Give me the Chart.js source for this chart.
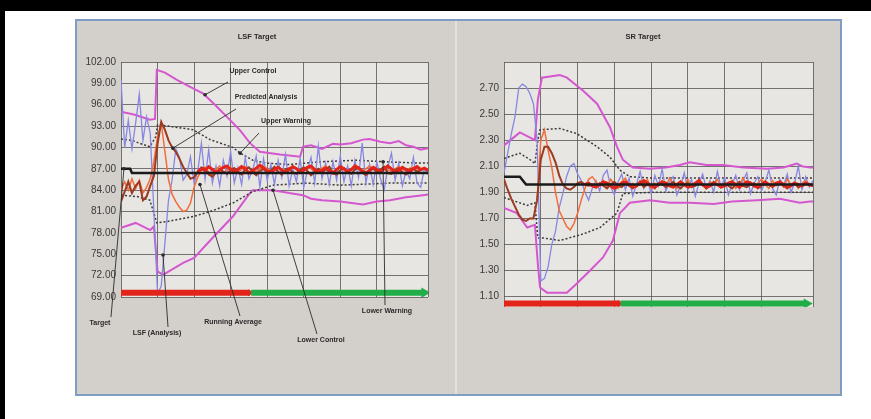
<!DOCTYPE html>
<html>
<head>
<meta charset="utf-8">
<script src="https://cdn.jsdelivr.net/npm/chart.js@4"></script>
<style>
  body { margin: 0; background: #fff; width: 871px; height: 419px; overflow: hidden; position: relative; }
  .topbar { position: absolute; left: 0; top: 0; width: 871px; height: 11px; background: #000; }
  .leftbar { position: absolute; left: 0; top: 0; width: 5px; height: 419px; background: #000; }
  .panel { position: absolute; left: 75px; top: 19px; width: 763px; height: 373px; background: #d3cfca; border: 2px solid #7d9dc3; }
  .divider { position: absolute; left: 455px; top: 21px; width: 2px; height: 373px; background: #e4e1dd; }
  canvas { position: absolute; }
</style>
</head>
<body>
<div class="topbar"></div>
<div class="leftbar"></div>
<div class="panel"></div>
<div class="divider"></div>
<canvas id="lsfChart" width="360" height="373" style="left:77px;top:21px"></canvas>
<canvas id="srChart" width="370" height="373" style="left:458px;top:21px"></canvas>
<script>
// ---- LSF Target (left chart) ----
var lsfTicks = [69, 72, 75, 78, 81, 84, 87, 90, 93, 96, 99, 102];
var lsfTickLabels = ["69.00", "72.00", "75.00", "78.00", "81.00", "84.00", "87.00", "90.00", "93.00", "96.00", "99.00", "102.00"];

var lsfTargetX = [0, 2.5, 3, 84];
var lsfTargetY = [87.0, 87.0, 86.4, 86.4];

var lsfUpperControlX = [0, 3.8, 7.9, 9.3, 9.8, 12, 15.3, 18.9, 22.4, 25.7, 29, 32.6, 35.3, 38, 43.5, 49, 49.8, 52, 55, 58, 60, 63, 66.2, 68, 71, 73.6, 76, 78, 80, 82, 84];
var lsfUpperControlY = [95.0, 94.6, 93.9, 94.0, 100.9, 100.5, 99.5, 98.5, 97.6, 96.0, 94.3, 92.4, 90.6, 89.4, 89.0, 88.7, 90.1, 90.3, 89.8, 90.5, 90.4, 90.6, 91.1, 91.2, 90.8, 90.6, 90.9, 90.3, 90.1, 89.7, 89.9];
var lsfLowerControlX = [0, 4, 8, 9, 10, 11.5, 17, 20, 25.4, 30.6, 35, 36, 41.6, 46, 49.8, 52, 55, 60, 66.2, 70, 73.6, 78, 82.6, 84];
var lsfLowerControlY = [78.7, 79.4, 78.4, 78.9, 72.6, 72.1, 73.8, 74.5, 77.5, 80.3, 83.4, 84.0, 84.0, 83.6, 83.3, 82.8, 82.6, 82.4, 82.0, 82.4, 82.6, 83.0, 83.3, 83.4];
var lsfUpperWarningX = [0, 3, 5, 7.9, 9.5, 10, 19.7, 24.4, 30.6, 32.6, 36.1, 39.7, 46, 55, 64.6, 71.7, 82, 84];
var lsfUpperWarningY = [91.2, 91.0, 90.6, 90.1, 91.5, 93.2, 92.5, 91.1, 90.0, 89.2, 88.2, 87.8, 87.6, 88.0, 88.2, 88.0, 87.8, 87.8];
var lsfLowerWarningX = [0, 4.4, 7.9, 9.8, 12.6, 19.7, 24.4, 30.6, 36.1, 41.6, 50.9, 59.9, 73.6, 81.8, 84];
var lsfLowerWarningY = [83.3, 83.1, 82.6, 79.4, 79.6, 80.3, 81.0, 82.2, 83.8, 84.7, 85.0, 84.7, 85.0, 85.0, 85.0];

// one value per x step, starting at x = 0
var lsfAnalysis = [
  99.5, 90.0, 93.8, 89.8, 93.4, 97.5, 91.0, 94.3, 92.0, 81.0,
  69.5, 70.5, 76.5, 82.6, 85.5, 89.8, 88.6, 85.4, 86.2, 88.7,
  85.0, 86.6, 90.6, 85.5, 89.7, 85.0, 87.4, 84.6, 88.2, 86.0,
  89.4, 85.0, 87.2, 84.8, 88.6, 85.6, 86.8, 88.8, 84.4, 88.4,
  85.4, 87.6, 84.8, 88.2, 85.8, 89.0, 84.6, 87.0, 85.2, 88.4,
  84.4, 86.8, 88.6, 85.0, 90.2, 85.6, 87.8, 84.8, 88.0, 85.4,
  88.8, 85.2, 87.4, 84.6, 88.2, 85.8, 90.6, 85.0, 87.6, 84.8,
  88.0, 85.6, 84.0, 87.2, 89.2, 85.4, 87.8, 84.6, 86.8, 85.6,
  88.6, 85.0, 84.4, 87.0, 86.2
];
var lsfPredicted = [
  82.4, 83.8, 85.2, 83.6, 84.6, 85.2, 82.6, 83.1, 84.6, 86.0,
  90.5, 93.6, 92.5, 91.0, 90.0, 89.4, 88.4, 87.3, 86.4, 85.6,
  85.8, 86.6, 87.2, 87.0, 86.2, 85.9, 86.5, 86.9, 86.6,
  86.3, 86.8, 87.1, 86.5, 86.2, 86.9, 87.2, 86.6, 86.1, 86.7,
  87.0, 86.4, 86.8, 87.3, 86.6, 86.2, 86.9, 87.1, 86.5, 86.3,
  86.8, 87.2, 86.7, 86.1, 86.6, 87.0, 86.5, 86.9, 87.3, 86.4,
  86.2, 86.8, 87.1, 86.6, 86.3, 86.9, 87.2, 86.5, 86.1, 86.7,
  87.0, 86.6, 86.9, 87.3, 86.4, 86.3, 86.8, 87.1, 86.5, 86.2,
  86.9, 87.0, 86.6, 86.8, 87.1, 86.7
];
var lsfRunningAvg = [
  84.0, 85.2, 84.0, 85.6, 84.2, 85.4, 83.6, 84.4, 85.6, 88.0,
  91.5, 93.4, 89.5, 85.5, 83.4, 82.4, 81.6, 81.0, 81.2, 82.2,
  84.4, 85.8, 86.8, 87.2, 86.6, 86.0, 86.9, 87.4, 86.4,
  86.9, 87.2, 86.8, 86.5, 86.9, 87.3, 87.1, 86.7, 86.6, 87.0,
  87.4, 87.0, 86.6, 86.8, 87.2, 86.9, 86.5, 86.8, 87.3, 87.1,
  86.7, 86.9, 87.3, 87.0, 86.6, 86.7, 87.1, 87.4, 86.9, 86.6,
  86.9, 87.2, 86.8, 86.5, 86.9, 87.3, 87.0, 86.7, 87.0, 87.4,
  87.0, 86.6, 86.8, 87.2, 86.9, 86.6, 87.0, 87.3, 86.9, 86.7,
  87.1, 87.2, 86.8, 86.9, 87.1, 86.9
];
// starts at x = 21
var lsfActualStart = 21;
var lsfActual = [
  86.6, 87.0, 86.8, 87.3, 86.9, 86.5, 86.8, 87.2, 87.4, 86.9,
  86.6, 86.9, 87.3, 87.0, 86.4, 86.7, 87.1, 87.5, 87.1, 86.7,
  86.5, 86.9, 87.2, 86.8, 86.5, 86.9, 87.3, 87.0, 86.6, 86.8,
  87.2, 87.4, 86.9, 86.5, 86.8, 87.1, 86.7, 86.4, 86.9, 87.3,
  87.0, 86.6, 86.9, 87.4, 87.1, 86.7, 86.4, 86.8, 87.2, 86.9,
  86.6, 87.0, 87.4, 87.0, 86.5, 86.8, 87.2, 86.9, 86.6, 87.0,
  87.3, 86.9, 87.1, 86.8
];
var lsfRedPhaseX = [0, 35.3];
var lsfGreenPhaseX = [35.6, 83.0];
var lsfPhaseY = 69.6;

// ---- SR Target (right chart) ----
var srTicks = [1.10, 1.30, 1.50, 1.70, 1.90, 2.10, 2.30, 2.50, 2.70, 2.90];
var srTickLabels = ["1.10", "1.30", "1.50", "1.70", "1.90", "2.10", "2.30", "2.50", "2.70", ""];

var srTargetX = [0, 4.3, 6.0, 84];
var srTargetY = [2.02, 2.02, 1.96, 1.96];

var srUpperControlX = [0, 4.3, 7.1, 8.4, 9.2, 10.3, 15.2, 17.1, 21.5, 25.3, 28.8, 30.7, 32.3, 35, 39.7, 44, 47.8, 50.5, 55, 59.5, 65, 71.5, 76, 79.6, 81, 83.2, 84];
var srUpperControlY = [2.26, 2.36, 2.32, 2.30, 2.61, 2.78, 2.80, 2.78, 2.68, 2.58, 2.40, 2.25, 2.15, 2.09, 2.08, 2.09, 2.11, 2.13, 2.11, 2.11, 2.09, 2.08, 2.09, 2.12, 2.10, 2.09, 2.09];
var srLowerControlX = [0, 3.5, 6.3, 8.4, 9.2, 9.8, 11.7, 17.1, 19.8, 23.4, 26.9, 29.6, 31.5, 34.2, 39.7, 45, 50.5, 57, 62, 68.8, 75, 80.4, 83.2, 84];
var srLowerControlY = [1.78, 1.74, 1.63, 1.65, 1.35, 1.17, 1.13, 1.13, 1.20, 1.30, 1.40, 1.53, 1.74, 1.82, 1.84, 1.82, 1.82, 1.81, 1.83, 1.84, 1.85, 1.82, 1.83, 1.83];
var srUpperWarningX = [0, 4.3, 7.1, 8.4, 9.2, 9.8, 15.2, 19.8, 25.3, 28.8, 31.5, 34.2, 39.7, 84];
var srUpperWarningY = [2.16, 2.20, 2.15, 2.12, 2.30, 2.38, 2.39, 2.35, 2.25, 2.17, 2.07, 2.02, 2.01, 2.01];
var srLowerWarningX = [0, 6.3, 8.4, 9.2, 10.6, 15.2, 21.5, 26.1, 30.7, 32.3, 40, 84];
var srLowerWarningY = [1.86, 1.80, 1.82, 1.55, 1.55, 1.53, 1.58, 1.63, 1.74, 1.89, 1.90, 1.90];

var srAnalysis = [
  2.05, 2.20, 2.35, 2.48, 2.70, 2.73, 2.71, 2.66, 2.58, 2.30,
  1.22, 1.24, 1.33, 1.50, 1.60, 1.78, 1.89, 2.02, 2.10, 2.12,
  2.04, 1.99, 1.90, 1.84,
  1.93, 1.99, 1.91, 2.03, 2.07, 1.94, 1.88, 1.98, 2.04, 1.92,
  2.01, 1.87, 1.96, 2.06, 1.93, 1.99, 1.89, 2.03, 1.95, 2.08,
  1.91, 1.98, 2.02, 1.88, 1.95, 2.05, 1.92, 2.00, 1.87, 1.97,
  2.04, 1.93, 1.99, 1.90, 2.06, 1.94, 2.01, 1.88, 1.96, 2.03,
  1.92, 1.99, 2.05, 1.89, 1.97, 2.02, 1.91, 1.98, 2.07, 1.93,
  1.88, 2.00, 1.95, 2.04, 1.90, 1.97, 2.10, 1.92, 2.02, 1.94, 1.99
];
var srPredicted = [
  2.00, 1.92, 1.85, 1.79, 1.73, 1.69, 1.68, 1.70, 1.70, 1.84,
  2.15, 2.25, 2.25, 2.20, 2.13, 2.03, 1.96, 1.93, 1.92, 1.94,
  1.97, 1.98, 1.96, 1.95,
  1.96, 1.94, 1.97, 1.95, 1.93, 1.96, 1.98, 1.95, 1.94, 1.97,
  1.95, 1.93, 1.96, 1.98, 1.94, 1.96, 1.95, 1.93, 1.97, 1.96,
  1.94, 1.96, 1.98, 1.95, 1.93, 1.96, 1.97, 1.94, 1.95, 1.97,
  1.96, 1.93, 1.95, 1.98, 1.96, 1.94, 1.97, 1.95, 1.93, 1.96,
  1.98, 1.95, 1.94, 1.96, 1.97, 1.93, 1.95, 1.97, 1.96, 1.94,
  1.96, 1.98, 1.95, 1.93, 1.96, 1.97, 1.94, 1.95, 1.97, 1.96, 1.95
];
// starts at x = 9
var srRunningAvgStart = 9;
var srRunningAvg = [
  1.84, 2.30, 2.38, 2.22, 2.09, 1.90, 1.76, 1.70, 1.64, 1.61,
  1.66, 1.74, 1.84, 1.93, 2.00, 2.02, 1.98,
  1.95, 1.99, 1.94, 2.00, 1.96, 1.93, 1.98, 2.01, 1.95, 1.97,
  1.94, 1.99, 1.96, 2.00, 1.93, 1.97, 1.95, 1.99, 1.94, 2.01,
  1.96, 1.93, 1.98, 1.95, 2.00, 1.94, 1.97, 1.99, 1.95, 1.93,
  1.98, 1.96, 2.00, 1.94, 1.97, 1.95, 1.99, 1.93, 1.96, 2.01,
  1.95, 1.98, 1.94, 1.97, 2.00, 1.96, 1.93, 1.99, 1.95, 1.97,
  1.94, 2.00, 1.96, 1.98, 1.93, 1.97, 1.99, 1.95, 1.96
];
// starts at x = 22
var srActualStart = 22;
var srActual = [
  1.96, 1.97, 1.95, 1.94, 1.96, 1.98, 1.97, 1.95, 1.93, 1.95,
  1.97, 1.98, 1.96, 1.94, 1.95, 1.97, 1.99, 1.97, 1.95, 1.94,
  1.96, 1.98, 1.97, 1.95, 1.94, 1.96, 1.98, 1.96, 1.94, 1.95,
  1.97, 1.99, 1.96, 1.94, 1.95, 1.97, 1.96, 1.94, 1.95, 1.97,
  1.98, 1.96, 1.94, 1.96, 1.98, 1.97, 1.95, 1.94, 1.96, 1.98,
  1.96, 1.95, 1.97, 1.98, 1.96, 1.94, 1.95, 1.97, 1.96, 1.95,
  1.97, 1.96, 1.95
];
var srRedPhaseX = [0, 31.5];
var srGreenPhaseX = [31.7, 82.3];
var srPhaseY = 1.046;

// leader-line labels: text box in canvas pixels, anchor in data units
var lsfNotes = [
  { text: "Upper Control", tx: 176, ty: 50, lx: 151, ly: 61, ax: 23, ay: 97.4 },
  { text: "Predicted Analysis", tx: 189, ty: 76, lx: 159, ly: 88, ax: 14.2, ay: 89.9 },
  { text: "Upper Warning", tx: 209, ty: 100, lx: 182, ly: 112, ax: 32.6, ay: 89.2 },
  { text: "Target", tx: 23, ty: 302, lx: 34, ly: 296, ax: 0.8, ay: 87.0 },
  { text: "LSF (Analysis)", tx: 80, ty: 312, lx: 91, ly: 306, ax: 11.5, ay: 74.9 },
  { text: "Running Average", tx: 156, ty: 301, lx: 163, ly: 295, ax: 21.6, ay: 84.8 },
  { text: "Lower Control", tx: 244, ty: 319, lx: 240, ly: 313, ax: 41.6, ay: 84.0 },
  { text: "Lower Warning", tx: 310, ty: 290, lx: 308, ly: 284, ax: 71.7, ay: 88.0 }
];

var magenta = "#d457cf";
var dotted = "#3a3a3a";
var blue = "#8787e2";
var orange = "#f26c3c";
var brown = "#9c3a22";
var red = "#e2241b";
var green = "#21ad48";

function pts(xs, ys) {
  return ys.map(function (y, i) { return { x: xs[i], y: y }; });
}
function run(start, ys) {
  return ys.map(function (y, i) { return { x: start + i, y: y }; });
}
function line(data, color, width, order, dash) {
  return {
    data: data,
    borderColor: color,
    borderWidth: width,
    borderDash: dash || [],
    pointRadius: 0,
    tension: 0,
    fill: false,
    order: order
  };
}
function arrow(xs, y, color, head, order) {
  var last = xs.length - 1;
  return {
    data: xs.map(function (x) { return { x: x, y: y }; }),
    borderColor: color,
    backgroundColor: color,
    borderWidth: 6,
    borderCapStyle: "butt",
    pointStyle: "triangle",
    rotation: 90,
    pointBorderWidth: 0,
    pointRadius: function (c) { return c.dataIndex === last ? head : 0; },
    tension: 0,
    order: order
  };
}

function plotBackground() {
  return {
    id: "plotBg",
    beforeDraw: function (chart) {
      var a = chart.chartArea;
      var c = chart.ctx;
      c.save();
      c.fillStyle = "#e8e6e2";
      c.fillRect(a.left, a.top, a.right - a.left, a.bottom - a.top);
      c.restore();
    }
  };
}

function labels(title, tx, notes) {
  return {
    id: "labels",
    afterDraw: function (chart) {
      var c = chart.ctx;
      var xs = chart.scales.x;
      var ys = chart.scales.y;
      c.save();
      c.fillStyle = "#2b2b2b";
      c.textAlign = "center";
      c.textBaseline = "middle";
      c.font = "bold 7.5px 'Liberation Sans', Arial, sans-serif";
      c.fillText(title, tx, 16);
      c.font = "bold 7px 'Liberation Sans', Arial, sans-serif";
      notes.forEach(function (n) {
        var px = xs.getPixelForValue(n.ax);
        var py = ys.getPixelForValue(n.ay);
        c.strokeStyle = "#2b2b2b";
        c.lineWidth = 0.9;
        c.beginPath();
        c.moveTo(n.lx, n.ly);
        c.lineTo(px, py);
        c.stroke();
        c.beginPath();
        c.arc(px, py, 1.8, 0, Math.PI * 2);
        c.fill();
        c.fillText(n.text, n.tx, n.ty);
      });
      c.restore();
    }
  };
}

function options(ticks, tickLabels, min, max, axisWidth, pad) {
  return {
    responsive: false,
    animation: false,
    events: [],
    layout: { padding: pad },
    plugins: { legend: { display: false }, tooltip: { enabled: false }, title: { display: false } },
    scales: {
      x: {
        type: "linear",
        min: 0,
        max: 84,
        border: { display: false },
        grid: { color: "rgba(85, 85, 85, 0.8)", lineWidth: 1, drawTicks: false },
        ticks: { display: false, stepSize: 10 },
        afterFit: function (s) { s.height = 0; }
      },
      y: {
        min: min,
        max: max,
        border: { display: false },
        grid: { color: "rgba(85, 85, 85, 0.8)", lineWidth: 1, drawTicks: false },
        afterBuildTicks: function (s) {
          s.ticks = ticks.map(function (v) { return { value: v }; });
        },
        afterFit: function (s) { s.width = axisWidth; },
        ticks: {
          padding: 5,
          color: "#3a3a3a",
          font: { family: "'Liberation Sans', Arial, sans-serif", size: 10 },
          callback: function (v, i) { return tickLabels[i]; }
        }
      }
    }
  };
}

new Chart(document.getElementById("lsfChart"), {
  type: "line",
  data: {
    datasets: [
      arrow(lsfGreenPhaseX, lsfPhaseY, green, 6, 0),
      arrow(lsfRedPhaseX, lsfPhaseY, red, 4, 1),
      line(pts(lsfTargetX, lsfTargetY), "#1b1b1b", 2.5, 2),
      line(run(lsfActualStart, lsfActual), red, 3, 3),
      line(run(0, lsfPredicted), brown, 2, 4),
      line(run(0, lsfRunningAvg), orange, 1.5, 5),
      line(run(0, lsfAnalysis), blue, 1.3, 6),
      line(pts(lsfUpperWarningX, lsfUpperWarningY), dotted, 1.5, 7, [2, 2]),
      line(pts(lsfLowerWarningX, lsfLowerWarningY), dotted, 1.5, 8, [2, 2]),
      line(pts(lsfUpperControlX, lsfUpperControlY), magenta, 2, 9),
      line(pts(lsfLowerControlX, lsfLowerControlY), magenta, 2, 10)
    ]
  },
  options: options(lsfTicks, lsfTickLabels, 69, 102, 44, { top: 41, right: 9, bottom: 97, left: 0 }),
  plugins: [plotBackground(), labels("LSF Target", 180, lsfNotes)]
});

new Chart(document.getElementById("srChart"), {
  type: "line",
  data: {
    datasets: [
      arrow(srGreenPhaseX, srPhaseY, green, 6, 0),
      arrow(srRedPhaseX, srPhaseY, red, 4, 1),
      line(pts(srTargetX, srTargetY), "#1b1b1b", 2.5, 2),
      line(run(srActualStart, srActual), red, 3, 3),
      line(run(0, srPredicted), brown, 2, 4),
      line(run(srRunningAvgStart, srRunningAvg), orange, 1.5, 5),
      line(run(0, srAnalysis), blue, 1.3, 6),
      line(pts(srUpperWarningX, srUpperWarningY), dotted, 1.5, 7, [2, 2]),
      line(pts(srLowerWarningX, srLowerWarningY), dotted, 1.5, 8, [2, 2]),
      line(pts(srUpperControlX, srUpperControlY), magenta, 2, 9),
      line(pts(srLowerControlX, srLowerControlY), magenta, 2, 10)
    ]
  },
  options: options(srTicks, srTickLabels, 1.02, 2.90, 46, { top: 41, right: 15, bottom: 87, left: 0 }),
  plugins: [plotBackground(), labels("SR Target", 185, [])]
});
</script>
</body>
</html>
